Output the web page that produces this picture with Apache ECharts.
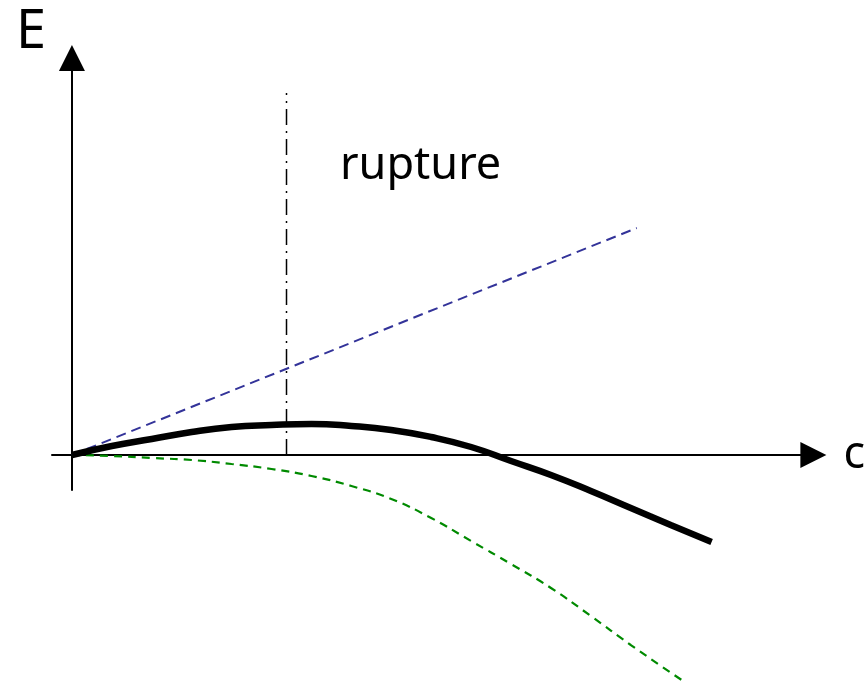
<!DOCTYPE html>
<html>
<head>
<meta charset="utf-8">
<script src="https://cdn.jsdelivr.net/npm/echarts@6/dist/echarts.min.js"></script>
<style>
    html, body { margin: 0; padding: 0; background: #fff; }
    #chart { width: 868px; height: 683px; }
</style>
</head>
<body>
<div id="chart"></div>
<script>
// energy E versus crack length c (arbitrary units)
var totalEnergy = [[0, 0], [0.4, 0.09], [0.8, 0.16], [1.2, 0.23], [1.6, 0.28], [2.0, 0.3],
    [2.4, 0.31], [2.8, 0.29], [3.2, 0.25], [3.6, 0.18], [4.0, 0.08], [4.4, -0.06],
    [4.8, -0.2], [5.2, -0.36], [5.6, -0.53], [6.0, -0.7], [6.41, -0.87]];
var surfaceEnergy = [[0, 0], [5.66, 2.27]];
var elasticEnergy = [[0, 0], [0.4, -0.01], [0.8, -0.03], [1.2, -0.05], [1.6, -0.09], [2.0, -0.14],
    [2.4, -0.21], [2.8, -0.31], [3.2, -0.44], [3.6, -0.63], [4.0, -0.86], [4.4, -1.09],
    [4.8, -1.33], [5.2, -1.61], [5.6, -1.9], [6.11, -2.25]];
var ruptureLine = [[2.15, 0], [2.15, 3.62]];
var xName = 'c';
var yName = 'E';
var ruptureLabel = 'rupture';

var myChart = echarts.init(document.getElementById('chart'));
var font = '"Noto Sans", sans-serif';

var option = {
    animation: false,
    grid: { left: 52, right: 53, top: 58, bottom: 193 },
    xAxis: {
        type: 'value',
        min: -0.2,
        max: 7.43,
        name: xName,
        nameLocation: 'end',
        nameGap: 30,
        nameTextStyle: { fontFamily: font, fontSize: 45, color: '#000' },
        axisLine: {
            onZero: true,
            symbol: ['none', 'triangle'],
            symbolSize: [26, 26],
            lineStyle: { color: '#000', width: 2 }
        },
        axisTick: { show: false },
        axisLabel: { show: false },
        splitLine: { show: false }
    },
    yAxis: {
        type: 'value',
        min: -0.35,
        max: 3.97,
        axisLine: {
            onZero: true,
            symbol: ['none', 'triangle'],
            symbolSize: [26, 26],
            lineStyle: { color: '#000', width: 2 }
        },
        axisTick: { show: false },
        axisLabel: { show: false },
        splitLine: { show: false }
    },
    graphic: [
        {
            type: 'text',
            x: 16,
            y: 33,
            style: { text: yName, font: '54px ' + font, fill: '#000', align: 'left', verticalAlign: 'middle' }
        },
        {
            type: 'text',
            x: 340,
            y: 166,
            style: { text: ruptureLabel, font: '45px ' + font, fill: '#000', align: 'left', verticalAlign: 'middle' }
        }
    ],
    series: [
        {
            type: 'line',
            data: surfaceEnergy,
            clip: false,
            showSymbol: false,
            lineStyle: { color: '#333399', width: 2, type: [10, 6] }
        },
        {
            type: 'line',
            data: elasticEnergy,
            clip: false,
            smooth: true,
            showSymbol: false,
            lineStyle: { color: '#008a00', width: 2.2, type: [8, 6] }
        },
        {
            type: 'line',
            data: ruptureLine,
            clip: false,
            showSymbol: false,
            lineStyle: { color: '#000', width: 1.5, type: [16, 6, 2, 6] }
        },
        {
            type: 'line',
            data: totalEnergy,
            clip: false,
            smooth: true,
            showSymbol: false,
            lineStyle: { color: '#000', width: 6.5 }
        }
    ]
};

myChart.setOption(option);
</script>
</body>
</html>
